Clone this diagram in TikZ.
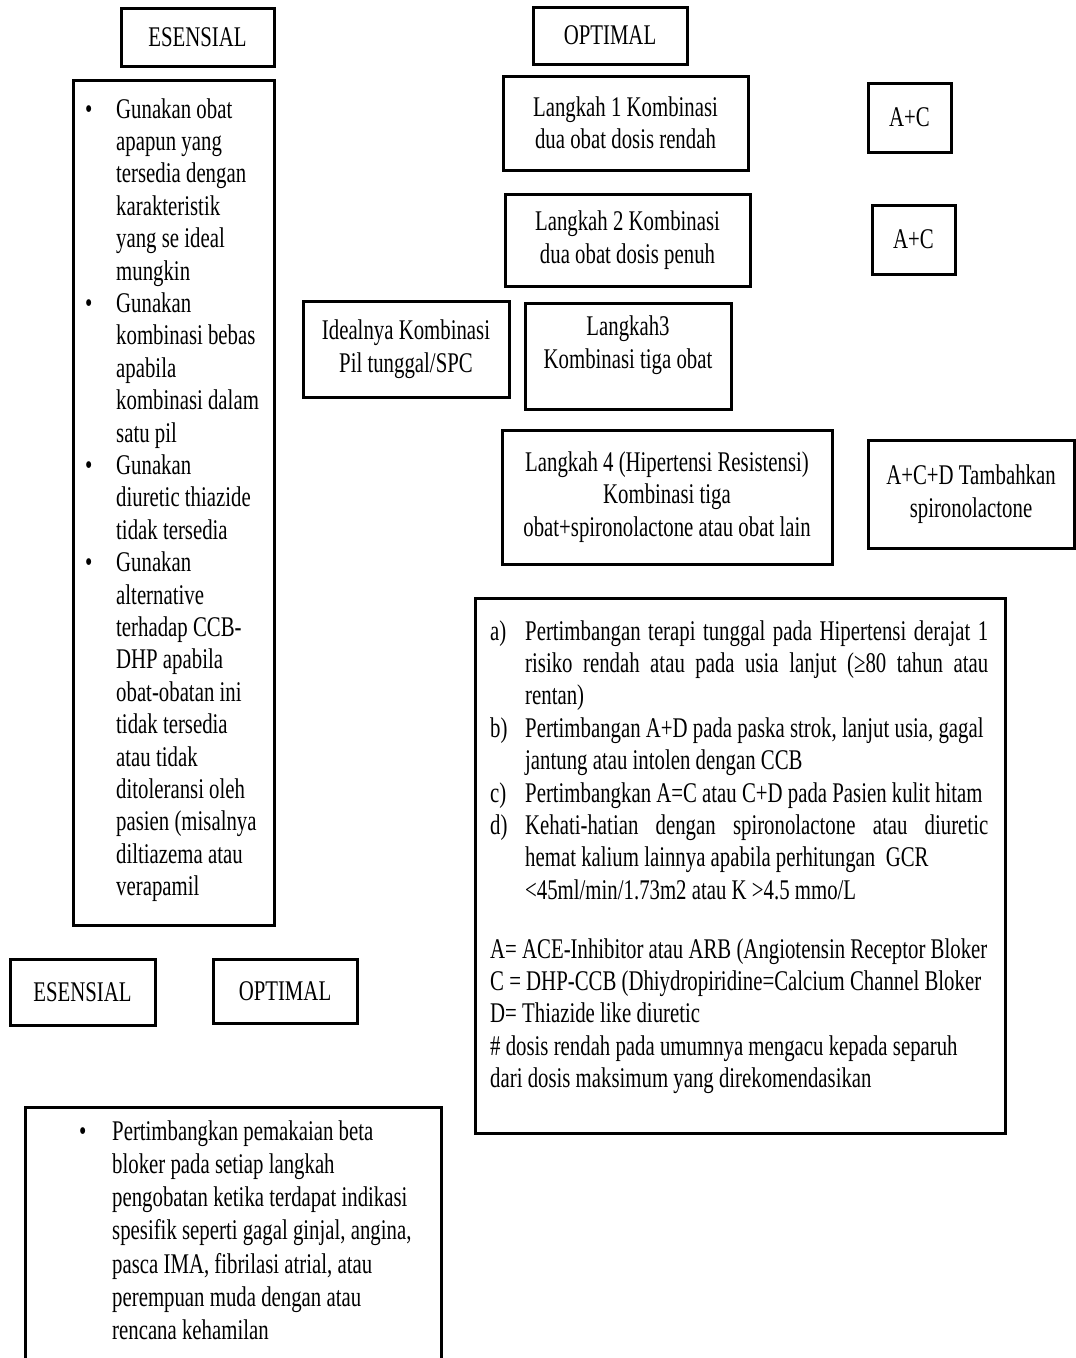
\documentclass[tikz,border=0pt]{standalone}
\usepackage{fontspec}
\setmainfont{Liberation Serif}[FakeStretch=0.73]
\usetikzlibrary{positioning}

\newcommand{\boxfont}{\fontsize{28.5}{32.4}\selectfont}
\newcommand{\jline}[1]{\makebox[463pt][s]{#1}}

\begin{document}
\begin{tikzpicture}[x=1pt, y=-1pt,
    box/.style={draw, line width=3pt, inner sep=0pt, align=center, font=\boxfont},
    txt/.style={inner sep=0pt, anchor=base west, font=\boxfont}]
    \clip (0,0) rectangle (1076,1358);
    \fill[white] (0,0) rectangle (1076,1358);

    % Esensial column (left)
    \node[box, minimum width=153, minimum height=58] (esTop) at (197.5,37) {ESENSIAL};
    \node[box, minimum width=201, minimum height=845] (esBox) at (173.5,502.5) {};
    \node[txt] (esList) at (85,118) {\begin{tabular}[t]{@{}p{31pt}@{}l@{}}
        \textbullet & Gunakan obat\\
         & apapun yang\\
         & tersedia dengan\\
         & karakteristik\\
         & yang se ideal\\
         & mungkin\\
        \textbullet & Gunakan\\
         & kombinasi bebas\\
         & apabila\\
         & kombinasi dalam\\
         & satu pil\\
        \textbullet & Gunakan\\
         & diuretic thiazide\\
         & tidak tersedia\\
        \textbullet & Gunakan\\
         & alternative\\
         & terhadap CCB-\\
         & DHP apabila\\
         & obat-obatan ini\\
         & tidak tersedia\\
         & atau tidak\\
         & ditoleransi oleh\\
         & pasien (misalnya\\
         & diltiazema atau\\
         & verapamil
    \end{tabular}};

    % Optimal steps
    \node[box, minimum width=154, minimum height=57] (opTop) at (610,35.5) {OPTIMAL};
    \node[box, minimum width=245, minimum height=94] (step1) at (625.5,123) {Langkah 1 Kombinasi\\dua obat dosis rendah};
    \node[box, minimum width=83, minimum height=69] (ac1) at (909.5,117.5) {A+C};
    \node[box, minimum width=245, minimum height=92] (step2) at (627.5,240) {Langkah 2 Kombinasi\\dua obat dosis penuh};
    \node[box, minimum width=83, minimum height=69] (ac2) at (913.5,239.5) {A+C};
    \node[box, minimum width=206, minimum height=96] (ideal) at (406,349) {Idealnya Kombinasi\\Pil tunggal/SPC};
    \node[box, minimum width=206, minimum height=106] (step3) at (628,356) {};
    \node[inner sep=0pt, align=center, font=\boxfont] (step3txt) at (628,345) {Langkah3\\Kombinasi tiga obat};
    \node[box, minimum width=330, minimum height=134] (step4) at (667,497) {Langkah 4 (Hipertensi Resistensi)\\Kombinasi tiga\\obat+spironolactone atau obat lain};
    \node[box, minimum width=206, minimum height=108] (acd) at (971,494) {A+C+D Tambahkan\\spironolactone};

    % Notes
    \node[box, minimum width=530, minimum height=535] (notes) at (740,865.5) {};
    \node[txt] (notesList) at (490,640) {\begin{tabular}[t]{@{}p{35pt}@{}l@{}}
        a) & \jline{Pertimbangan terapi tunggal pada Hipertensi derajat 1}\\
         & \jline{risiko rendah atau pada usia lanjut (≥80 tahun atau}\\
         & rentan)\\
        b) & Pertimbangan A+D pada paska strok, lanjut usia, gagal\\
         & jantung atau intolen dengan CCB\\
        c) & Pertimbangkan A=C atau C+D pada Pasien kulit hitam\\
        d) & \jline{Kehati-hatian dengan spironolactone atau diuretic}\\
         & hemat kalium lainnya apabila perhitungan\ \ GCR\\
         & <45ml/min/1.73m2 atau K >4.5 mmo/L
    \end{tabular}};
    \node[txt] (legend) at (490,958) {\begin{tabular}[t]{@{}l@{}}
        A= ACE-Inhibitor atau ARB (Angiotensin Receptor Bloker\\
        C = DHP-CCB (Dhiydropiridine=Calcium Channel Bloker\\
        D= Thiazide like diuretic\\
        \# dosis rendah pada umumnya mengacu kepada separuh\\
        dari dosis maksimum yang direkomendasikan
    \end{tabular}};

    % Bottom pair and beta blocker box
    \node[box, minimum width=145, minimum height=66] (esBot) at (82.5,992) {ESENSIAL};
    \node[box, minimum width=144, minimum height=64] (opBot) at (285,991) {OPTIMAL};
    \node[box, minimum width=416, minimum height=300] (beta) at (233,1257) {};
    \node[txt, font=\fontsize{28.5}{33.3}\selectfont] (betaList) at (79,1140) {\begin{tabular}[t]{@{}p{33pt}@{}l@{}}
        \textbullet & Pertimbangkan pemakaian beta\\
         & bloker pada setiap langkah\\
         & pengobatan ketika terdapat indikasi\\
         & spesifik seperti gagal ginjal, angina,\\
         & pasca IMA, fibrilasi atrial, atau\\
         & perempuan muda dengan atau\\
         & rencana kehamilan
    \end{tabular}};
\end{tikzpicture}
\end{document}
